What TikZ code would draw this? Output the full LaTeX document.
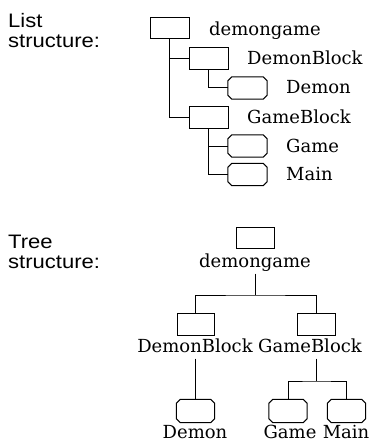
\documentclass[tikz,border=0pt]{standalone}
\usepackage{fontspec}
\setmainfont{DejaVu Serif}
\newfontfamily\hv[FakeStretch=1.13]{Liberation Sans}
\begin{document}
\begin{tikzpicture}[x=1pt,y=-1pt,
  blk/.style={draw,line width=1pt,rectangle,minimum width=39pt,minimum height=21pt,inner sep=0pt},
  oct/.style={rectangle,minimum width=39pt,minimum height=22pt,inner sep=0pt},
  octline/.style={line width=1pt,line join=miter},
  lbl/.style={font=\fontsize{18}{20}\selectfont,inner xsep=1pt,inner ysep=2pt,text depth=4.5pt},
  hd/.style={font=\hv\fontsize{19.5}{20.5}\selectfont,align=left,anchor=north west,inner sep=0pt},
  conn/.style={line width=1pt}]
\fill[white] (0,0) rectangle (371,441);
\useasboundingbox (0,0) rectangle (371,441);

% ---------- List structure ----------
\node[hd] (lhead) at (8,13) {List\\structure:};
\node[blk] (lroot) at (169.5,28.5) {};
\node[blk,minimum height=22pt] (ldb) at (208.5,59) {};
\node[oct] (ldemon) at (247.5,88) {};
\node[blk,minimum height=22pt] (lgb) at (208.5,117.5) {};
\node[oct] (lgame) at (247.5,146) {};
\node[oct] (lmain) at (247.5,174.5) {};

\node[lbl,anchor=base west] (lrootl) at (208,36) {demongame};
\node[lbl,anchor=base west] (ldbl) at (246,65) {DemonBlock};
\node[lbl,anchor=base west] (ldemonl) at (285,94) {Demon};
\node[lbl,anchor=base west] (lgbl) at (246,123) {GameBlock};
\node[lbl,anchor=base west] (lgamel) at (285,152) {Game};
\node[lbl,anchor=base west] (lmainl) at (285,180) {Main};

\draw[conn] (lroot.south) |- (lgb.west);
\draw[conn] (lroot.south |- ldb.west) -- (ldb.west);
\draw[conn] (ldb.south) |- (ldemon.west);
\draw[conn] (lgb.south) |- (lmain.west);
\draw[conn] (lgb.south |- lgame.west) -- (lgame.west);

% ---------- Tree structure ----------
\node[hd] (thead) at (8,234.5) {Tree\\structure:};
\node[blk,minimum width=38pt] (troot) at (255,237.5) {};
\node[lbl,anchor=base] (trootl) at (255,267) {demongame};
\coordinate (tj) at (255,295);
\node[blk,minimum width=37pt,minimum height=22pt] (tdb) at (195.5,324) {};
\node[blk,minimum width=38pt,minimum height=22pt] (tgb) at (316,324) {};
\node[lbl,anchor=base] (tdbl) at (195,352) {DemonBlock};
\node[lbl,anchor=base] (tgbl) at (310,352) {GameBlock};
\node[oct,minimum width=38pt,minimum height=23pt] (tdemon) at (195.5,411) {};
\coordinate (tj2) at (316,381);
\node[oct,minimum width=38pt,minimum height=23pt] (tgame) at (288,411) {};
\node[oct,minimum width=38pt,minimum height=23pt] (tmain) at (346.5,411) {};
\node[lbl,anchor=base] (tdemonl) at (195,438) {Demon};
\node[lbl,anchor=base] (tgamel) at (290,438) {Game};
\node[lbl,anchor=base] (tmainl) at (346,438) {Main};

\draw[conn] (trootl.south) -- (tj);
\draw[conn] (tdb.north) |- (tj) -| (tgb.north);
\draw[conn] (tdbl.south -| tdemon.north) -- (tdemon.north);
\draw[conn] (tgbl.south -| tgb.north) -- (tj2);
\draw[conn] (tgame.north) |- (tj2) -| (tmain.north);

% octagon outlines of the leaf nodes
\foreach \n in {ldemon,lgame,lmain,tdemon,tgame,tmain}
  \draw[octline] ([xshift=4pt]\n.north west) -- ([xshift=-4pt]\n.north east)
    -- ([yshift=-4pt]\n.north east) -- ([yshift=4pt]\n.south east)
    -- ([xshift=-4pt]\n.south east) -- ([xshift=4pt]\n.south west)
    -- ([yshift=4pt]\n.south west) -- ([yshift=-4pt]\n.north west) -- cycle;
\end{tikzpicture}
\end{document}
